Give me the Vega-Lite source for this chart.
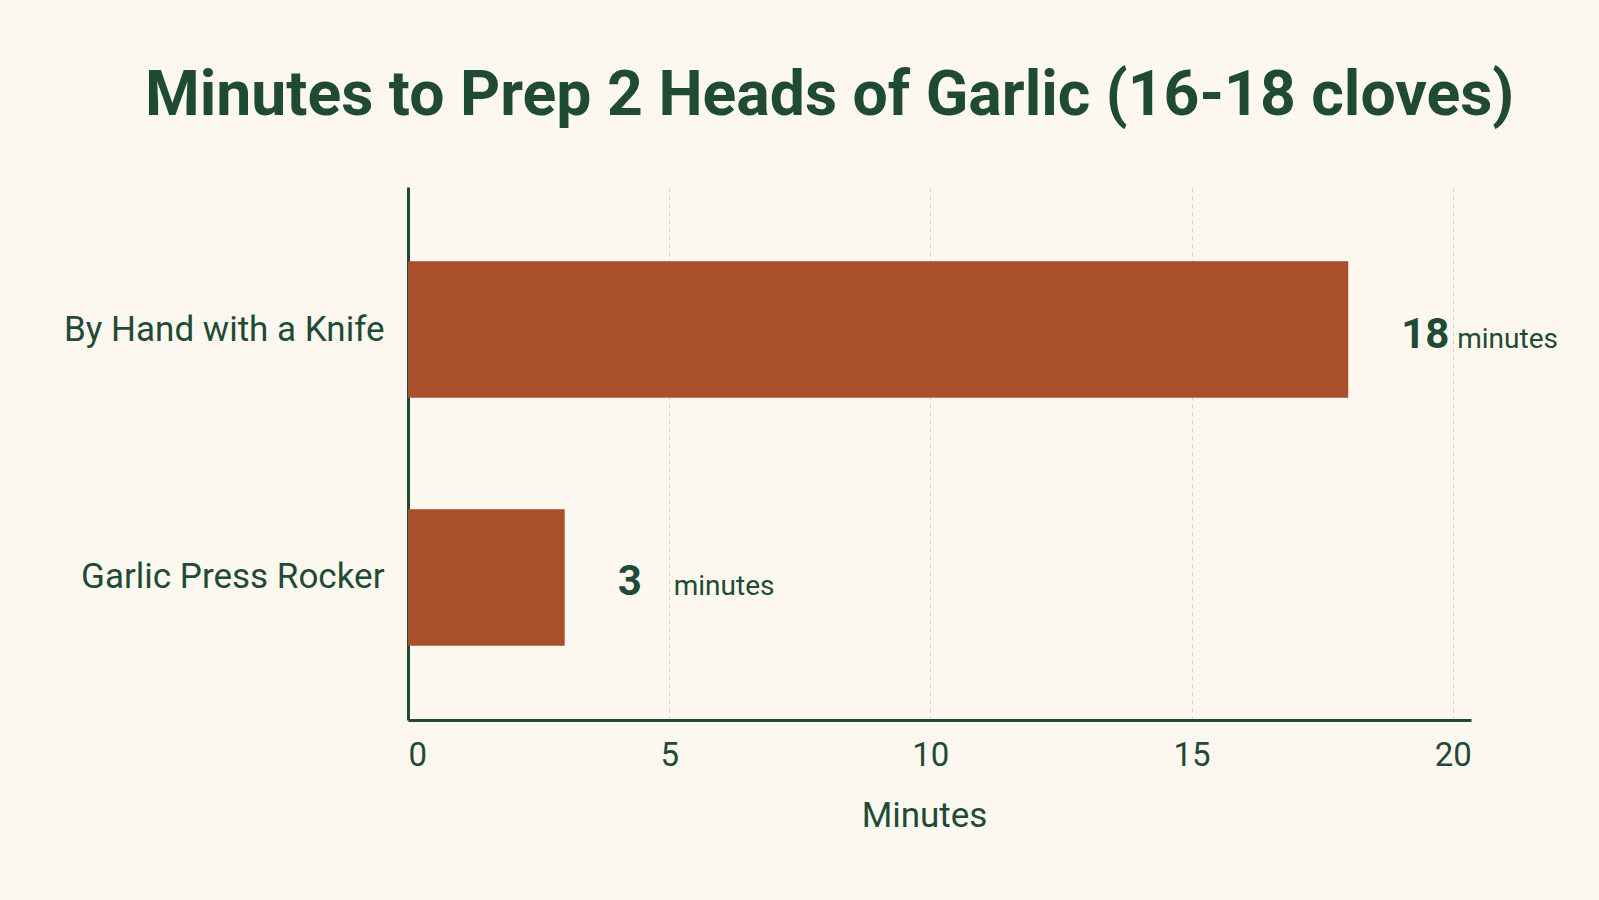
{
  "$schema": "https://vega.github.io/schema/vega-lite/v6.json",
  "width": 1063,
  "height": 533,
  "autosize": {"type": "none"},
  "padding": {"left": 408, "top": 187, "right": 128, "bottom": 180},
  "background": "#FCF8EF",
  "title": {
    "text": "Minutes to Prep 2 Heads of Garlic (16-18 cloves)",
    "anchor": "start",
    "frame": "group",
    "dx": -263,
    "offset": 10,
    "baseline": "alphabetic",
    "font": "Roboto",
    "fontSize": 62.5,
    "fontWeight": "bold",
    "color": "#1F4B35"
  },
  "data": {
    "values": [
      {"method": "By Hand with a Knife", "minutes": 18},
      {"method": "Garlic Press Rocker", "minutes": 3}
    ]
  },
  "encoding": {
    "y": {
      "field": "method",
      "type": "nominal",
      "sort": null,
      "scale": {"paddingInner": 0.45, "paddingOuter": 0.3},
      "axis": {
        "title": null,
        "labelFont": "Roboto",
        "labelFontSize": 35,
        "labelColor": "#1F4B35",
        "labelPadding": 24,
        "labelLimit": 0,
        "ticks": false,
        "domainColor": "#1F4B35",
        "domainWidth": 3,
        "grid": false
      }
    },
    "x": {
      "field": "minutes",
      "type": "quantitative",
      "scale": {"domain": [0, 20.35], "nice": false},
      "axis": {
        "title": "Minutes",
        "values": [0, 5, 10, 15, 20],
        "labelFont": "Roboto",
        "labelFontSize": 33,
        "labelColor": "#1F4B35",
        "labelPadding": 19,
        "titleFont": "Roboto",
        "titleFontSize": 35,
        "titleFontWeight": "normal",
        "titleColor": "#1F4B35",
        "titlePadding": 26,
        "titleX": 516,
        "ticks": false,
        "domainColor": "#1F4B35",
        "domainWidth": 3,
        "grid": true,
        "gridColor": "#D4D1C8",
        "gridDash": [4, 4],
        "gridWidth": 1
      }
    }
  },
  "layer": [
    {"mark": {"type": "bar", "color": "#AA4F2B"}},
    {
      "mark": {"type": "text", "align": "left", "baseline": "alphabetic", "dx": 53, "dy": 18, "font": "Roboto", "fontSize": 42, "fontWeight": "bold", "color": "#1F4B35"},
      "encoding": {"text": {"field": "minutes", "type": "quantitative"}}
    },
    {
      "mark": {"type": "text", "align": "left", "baseline": "alphabetic", "dx": 109, "dy": 18, "font": "Roboto", "fontSize": 28, "color": "#1F4B35"},
      "encoding": {"text": {"value": "minutes"}}
    }
  ],
  "config": {"view": {"stroke": null}}
}
